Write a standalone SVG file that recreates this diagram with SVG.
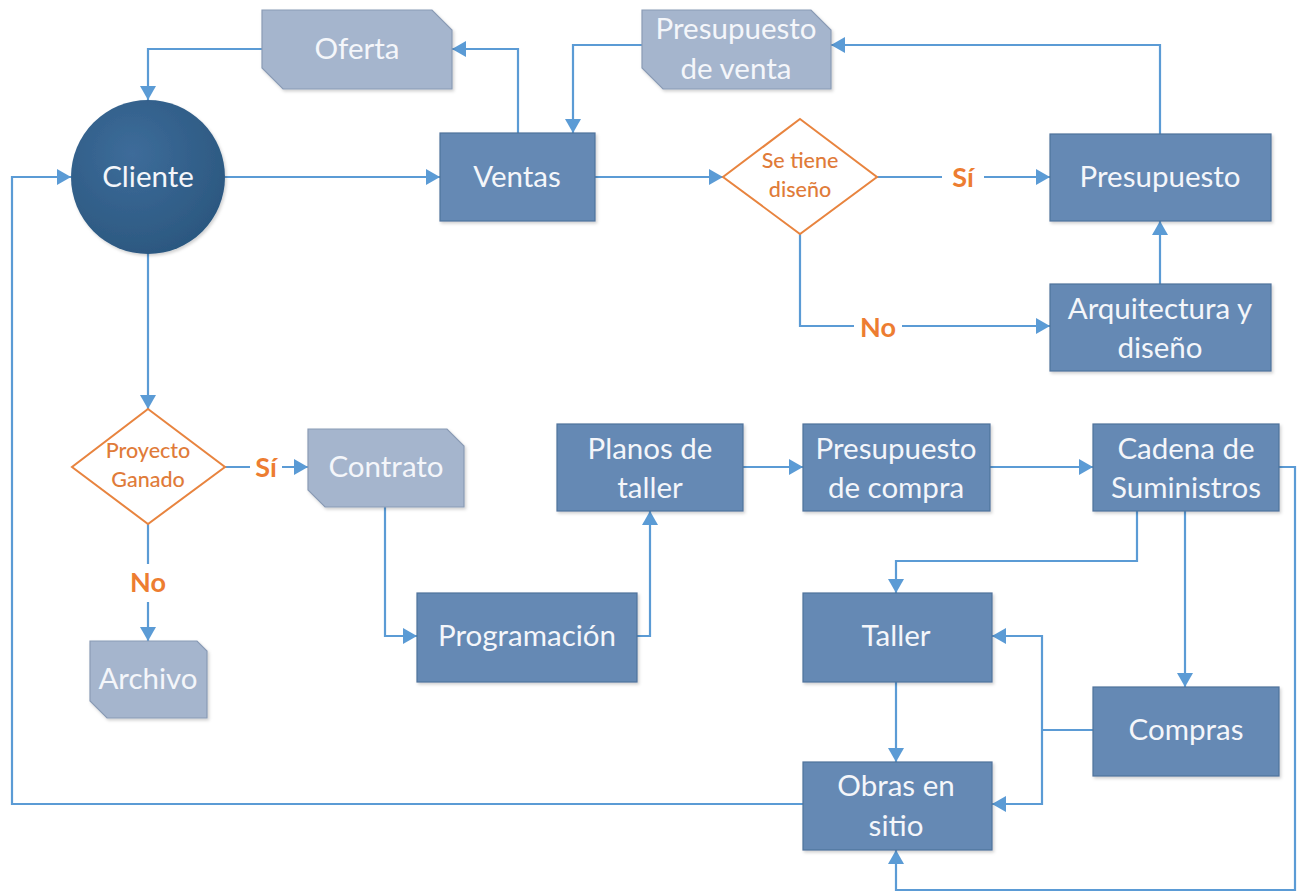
<svg xmlns="http://www.w3.org/2000/svg" width="1299" height="892" viewBox="0 0 1299 892">
  <defs>
    <style>
      .box { fill: #6589b4; stroke: #4f729b; stroke-width: 1.2; filter: url(#shadow); }
      .doc { fill: #a5b5cd; stroke: #8a9bb5; stroke-width: 1.2; filter: url(#shadow); }
      .dec { fill: #ffffff; stroke: #e8843f; stroke-width: 2; }
      .lbl { font-family: Lato, "Open Sans", "Liberation Sans", sans-serif; font-size: 29.5px; fill: #f4f6fa; text-anchor: middle; }
      .dlbl { font-family: Lato, "Open Sans", "Liberation Sans", sans-serif; font-size: 21.5px; font-weight: 500; fill: #e07b39; text-anchor: middle; }
      .yn { font-family: Lato, "Open Sans", "Liberation Sans", sans-serif; font-size: 27px; font-weight: bold; fill: #ed7d31; text-anchor: middle; }
      .wire { fill: none; stroke: #5b9bd5; stroke-width: 2.2; marker-end: url(#arrow); }
      .wire-plain { fill: none; stroke: #5b9bd5; stroke-width: 2.2; }
    </style>
    <marker id="arrow" viewBox="0 0 14 16" refX="14" refY="8" markerWidth="14" markerHeight="16" markerUnits="userSpaceOnUse" orient="auto">
      <path d="M0,0 L14,8 L0,16 Z" fill="#5b9bd5"/>
    </marker>
    <radialGradient id="circleFill" cx="40%" cy="35%" r="70%">
      <stop offset="0" stop-color="#3d6c9a"/>
      <stop offset="1" stop-color="#2b577f"/>
    </radialGradient>
    <filter id="shadow" x="-10%" y="-10%" width="125%" height="130%">
      <feDropShadow dx="1.5" dy="2" stdDeviation="1.5" flood-color="#000" flood-opacity="0.18"/>
    </filter>
  </defs>

  <rect width="1299" height="892" fill="#ffffff"/>

  <!-- connectors -->
  <g id="connectors">
    <!-- Cliente -> Ventas -->
    <path class="wire" d="M225,177 H440"/>
    <!-- Ventas -> Oferta -->
    <path class="wire" d="M518,133 V49 H452"/>
    <!-- Oferta -> Cliente -->
    <path class="wire" d="M262,49 H148 V100"/>
    <!-- Ventas -> decision -->
    <path class="wire" d="M595,177 H723"/>
    <!-- decision Sí -> Presupuesto -->
    <path class="wire" d="M877,177 H1050"/>
    <!-- decision No -> Arquitectura -->
    <path class="wire" d="M800,233 V326 H1050"/>
    <!-- Arquitectura -> Presupuesto -->
    <path class="wire" d="M1160,284 V221"/>
    <!-- Presupuesto -> Presupuesto de venta -->
    <path class="wire" d="M1160,134 V45 H831"/>
    <!-- Presupuesto de venta -> Ventas -->
    <path class="wire" d="M642,45 H573 V133"/>
    <!-- Cliente -> Proyecto Ganado -->
    <path class="wire" d="M148,254 V409"/>
    <!-- Proyecto Ganado Sí -> Contrato -->
    <path class="wire" d="M225,467 H308"/>
    <!-- Proyecto Ganado No -> Archivo -->
    <path class="wire-plain" d="M148,524 V564"/>
    <path class="wire" d="M148,602 V641"/>
    <!-- Contrato -> Programación -->
    <path class="wire" d="M385,507 V636 H417"/>
    <!-- Programación -> Planos de taller -->
    <path class="wire" d="M637,636 H650 V511"/>
    <!-- Planos -> Presupuesto de compra -->
    <path class="wire" d="M743,467 H803"/>
    <!-- Presupuesto de compra -> Cadena -->
    <path class="wire" d="M990,467 H1093"/>
    <!-- Cadena -> Taller -->
    <path class="wire" d="M1137,511 V561 H896 V593"/>
    <!-- Cadena -> Compras -->
    <path class="wire" d="M1185,511 V687"/>
    <!-- Compras -> Taller / Obras -->
    <path class="wire-plain" d="M1093,730 H1042"/>
    <path class="wire" d="M1042,730 V636 H992"/>
    <path class="wire" d="M1042,730 V804 H992"/>
    <!-- Taller -> Obras -->
    <path class="wire" d="M896,682 V762"/>
    <!-- Cadena -> Obras (outer loop) -->
    <path class="wire" d="M1279,467 H1295 V890 H896 V850"/>
    <!-- Obras -> Cliente -->
    <path class="wire" d="M803,804 H12 V177 H71"/>
  </g>

  <!-- branch labels -->
  <g id="branch-labels">
    <rect x="942" y="163" width="42" height="28" fill="#ffffff"/>
    <text class="yn" x="963" y="187">Sí</text>
    <rect x="854" y="313" width="48" height="28" fill="#ffffff"/>
    <text class="yn" x="878" y="337">No</text>
    <rect x="250" y="454" width="32" height="28" fill="#ffffff"/>
    <text class="yn" x="266" y="477">Sí</text>
    <text class="yn" x="148" y="592">No</text>
  </g>

  <g id="cliente">
    <circle cx="148" cy="177" r="77" fill="url(#circleFill)" filter="url(#shadow)"/>
    <text class="lbl" x="148" y="187">Cliente</text>
  </g>

  <g id="oferta">
    <path class="doc" d="M262,10 H432 L452,30 V89 H283 L262,68 Z"/>
    <text class="lbl" x="357" y="59">Oferta</text>
  </g>

  <g id="presupuesto-venta">
    <path class="doc" d="M642,10 H811 L831,30 V89 H663 L642,68 Z"/>
    <text class="lbl" x="736" y="39">Presupuesto</text>
    <text class="lbl" x="736" y="79">de venta</text>
  </g>

  <g id="ventas">
    <rect class="box" x="440" y="133" width="155" height="88"/>
    <text class="lbl" x="517" y="187">Ventas</text>
  </g>

  <g id="se-tiene-diseno">
    <path class="dec" d="M800,119 L877,177 L800,234 L723,177 Z"/>
    <text class="dlbl" x="800" y="168">Se tiene</text>
    <text class="dlbl" x="800" y="197">diseño</text>
  </g>

  <g id="presupuesto">
    <rect class="box" x="1050" y="134" width="221" height="87"/>
    <text class="lbl" x="1160" y="187">Presupuesto</text>
  </g>

  <g id="arquitectura">
    <rect class="box" x="1050" y="284" width="221" height="87"/>
    <text class="lbl" x="1160" y="319">Arquitectura y</text>
    <text class="lbl" x="1160" y="358">diseño</text>
  </g>

  <g id="proyecto-ganado">
    <path class="dec" d="M148,409 L225,467 L148,524 L72,467 Z"/>
    <text class="dlbl" x="148" y="458">Proyecto</text>
    <text class="dlbl" x="148" y="487">Ganado</text>
  </g>

  <g id="contrato">
    <path class="doc" d="M308,429 H447 L464,446 V507 H325 L308,490 Z"/>
    <text class="lbl" x="386" y="477">Contrato</text>
  </g>

  <g id="archivo">
    <path class="doc" d="M90,641 H197 L207,651 V718 H107 L90,701 Z"/>
    <text class="lbl" x="148" y="689">Archivo</text>
  </g>

  <g id="programacion">
    <rect class="box" x="417" y="593" width="220" height="89"/>
    <text class="lbl" x="527" y="646">Programación</text>
  </g>

  <g id="planos-taller">
    <rect class="box" x="557" y="424" width="186" height="87"/>
    <text class="lbl" x="650" y="459">Planos de</text>
    <text class="lbl" x="650" y="498">taller</text>
  </g>

  <g id="presupuesto-compra">
    <rect class="box" x="803" y="424" width="187" height="87"/>
    <text class="lbl" x="896" y="459">Presupuesto</text>
    <text class="lbl" x="896" y="498">de compra</text>
  </g>

  <g id="cadena-suministros">
    <rect class="box" x="1093" y="424" width="186" height="87"/>
    <text class="lbl" x="1186" y="459">Cadena de</text>
    <text class="lbl" x="1186" y="498">Suministros</text>
  </g>

  <g id="taller">
    <rect class="box" x="803" y="593" width="189" height="89"/>
    <text class="lbl" x="896" y="646">Taller</text>
  </g>

  <g id="compras">
    <rect class="box" x="1093" y="687" width="186" height="89"/>
    <text class="lbl" x="1186" y="740">Compras</text>
  </g>

  <g id="obras-sitio">
    <rect class="box" x="803" y="762" width="189" height="88"/>
    <text class="lbl" x="896" y="796">Obras en</text>
    <text class="lbl" x="896" y="836">sitio</text>
  </g>
</svg>
